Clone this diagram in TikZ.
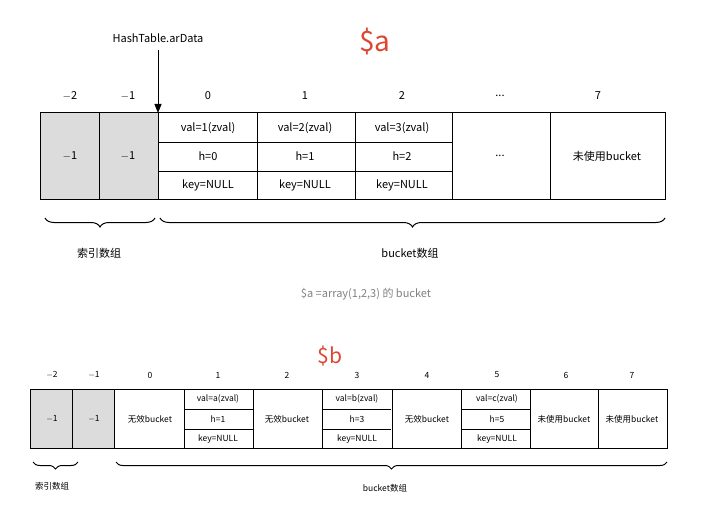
\documentclass[tikz,border=0pt]{standalone}
\usepackage{fontspec}
\setmainfont{Noto Sans CJK SC}
\usetikzlibrary{arrows.meta,decorations.pathreplacing,positioning}
\definecolor{hashred}{RGB}{221,70,50}
\definecolor{idxgray}{RGB}{220,220,220}
\begin{document}
\begin{tikzpicture}[x=1pt,y=-1pt,line width=1pt,
  cellfont/.style={font=\fontsize{11}{13}\selectfont},
  smallfont/.style={font=\fontsize{8.5}{10}\selectfont},
  bracedeco/.style={decorate,decoration={brace,mirror,amplitude=9pt}}]
\useasboundingbox (0,0) rectangle (717,513);
%\node at (0,0) {$a};
\node[text=hashred,font=\fontsize{28}{30}\selectfont] (titlea) at (375,42) {\$a};
\node[cellfont] (arData) at (158,38) {HashTable.arData};
\coordinate (arTop) at (158,50);
\coordinate (arEnd) at (158,113);
\draw[-{Triangle[length=9pt,width=7pt]}] (arTop) -- (arEnd);

% top table
\fill[idxgray] (40,113) rectangle (158,200);
\draw (40,113) rectangle (665,200);
\foreach \x in {99,158,257,355,452,550} \draw (\x,113) -- (\x,200);
\foreach \y in {142,171} \draw[line width=0.5pt] (158,\y) -- (452,\y);
\foreach \x/\t in {70/$-$2,128/$-$1,208/0,305/1,402/2,598/7}
  \node[cellfont] at (\x,96) {\t};
\node[cellfont] at (500,96) {...};
\node[cellfont] at (70,156) {$-$1};
\node[cellfont] at (128,156) {$-$1};
\foreach \x/\n in {208/1,305/2,402/3}{
  \pgfmathtruncatemacro\hh{\n-1}
  \node[cellfont] at (\x,128) {val=\n(zval)};
  \node[cellfont] at (\x,156) {h=\hh};
  \node[cellfont] at (\x,185) {key=NULL};
}
\node[cellfont] at (500,156) {...};
\node[cellfont] at (607,156) {未使用bucket};
\draw[bracedeco] (45,218) -- (155,218);
\draw[bracedeco] (160,218) -- (665,218);
\node[cellfont] (idxa) at (99,253) {索引数组};
\node[cellfont] (bucketa) at (410,253) {bucket数组};
\node[cellfont,text=gray] (captiona) at (366,294) {\$a =array(1,2,3) 的 bucket};

% bottom table
\node[text=hashred,font=\fontsize{21}{24}\selectfont] (titleb) at (330,356) {\$b};
\fill[idxgray] (30,389) rectangle (114,448);
\draw (30,389) rectangle (667,448);
\foreach \x in {72,114,184,253,322,392,461,530,598} \draw (\x,389) -- (\x,448);
\foreach \x in {184,322,461}{
  \draw[line width=0.5pt] (\x,409) -- (\x+69,409);
  \draw[line width=0.5pt] (\x,429) -- (\x+69,429);
}
\foreach \x/\t in {52/$-$2,94/$-$1,150/0,218/1,287/2,357/3,427/4,497/5,566/6,632/7}
  \node[smallfont] at (\x,375) {\t};
\node[smallfont] at (52,419) {$-$1};
\node[smallfont] at (94,419) {$-$1};
\foreach \x in {150,287,427} \node[smallfont] at (\x,419) {无效bucket};
\foreach \x/\v/\h in {218/a/1,357/b/3,497/c/5}{
  \node[smallfont] at (\x,399) {val=\v(zval)};
  \node[smallfont] at (\x,419) {h=\h};
  \node[smallfont] at (\x,439) {key=NULL};
}
\node[smallfont] at (564,419) {未使用bucket};
\node[smallfont] at (632,419) {未使用bucket};
\draw[bracedeco,decoration={amplitude=7pt}] (33,462) -- (78,462);
\draw[bracedeco,decoration={amplitude=7pt}] (116,462) -- (667,462);
\node[smallfont] (idxb) at (52,486) {索引数组};
\node[smallfont] (bucketb) at (385,488) {bucket数组};
\end{tikzpicture}
\end{document}
